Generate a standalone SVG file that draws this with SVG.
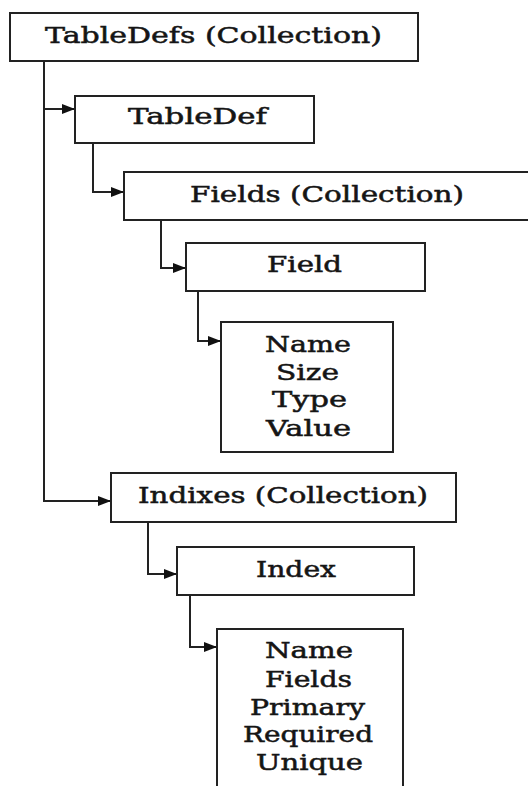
<svg xmlns="http://www.w3.org/2000/svg" width="528" height="786" viewBox="0 0 528 786">
<defs>
<marker id="arr" viewBox="0 0 13 10" refX="13" refY="5" markerWidth="13" markerHeight="10" markerUnits="userSpaceOnUse" orient="auto">
<path d="M0,0 L13,5 L0,10 z" fill="#111"/>
</marker>
</defs>
<style>
.box{fill:#fff;stroke:#222;stroke-width:2}
.lbl{font-family:"DejaVu Serif","Liberation Serif",serif;font-size:22px;fill:#151515;stroke:#151515;stroke-width:0.5;text-anchor:middle}
.con{fill:none;stroke:#222;stroke-width:2}
</style>
<rect width="528" height="786" fill="#fff"/>
<g id="connectors">
<path class="con" d="M44,61 V501 H111" marker-end="url(#arr)"/>
<path class="con" d="M44,109 H75" marker-end="url(#arr)"/>
<path class="con" d="M93,143 V192 H124" marker-end="url(#arr)"/>
<path class="con" d="M161,220 V268 H186" marker-end="url(#arr)"/>
<path class="con" d="M198,291 V341 H221" marker-end="url(#arr)"/>
<path class="con" d="M148,522 V574 H177" marker-end="url(#arr)"/>
<path class="con" d="M190,595 V647 H217" marker-end="url(#arr)"/>
</g>
<g id="tabledefs">
<rect class="box" x="10" y="13" width="408" height="48"/>
<text class="lbl" x="213.5" y="43" textLength="337" lengthAdjust="spacingAndGlyphs">TableDefs (Collection)</text>
</g>
<g id="tabledef">
<rect class="box" x="75" y="96" width="239" height="47"/>
<text class="lbl" x="197.5" y="124" textLength="139" lengthAdjust="spacingAndGlyphs">TableDef</text>
</g>
<g id="fields">
<rect class="box" x="124" y="172" width="410" height="48"/>
<text class="lbl" x="327" y="202" textLength="274" lengthAdjust="spacingAndGlyphs">Fields (Collection)</text>
</g>
<g id="field">
<rect class="box" x="186" y="243" width="239" height="48"/>
<text class="lbl" x="304.5" y="272" textLength="75" lengthAdjust="spacingAndGlyphs">Field</text>
</g>
<g id="field-props">
<rect class="box" x="221" y="322" width="172" height="130"/>
<text class="lbl" x="308" y="352" textLength="86" lengthAdjust="spacingAndGlyphs">Name</text>
<text class="lbl" x="307.5" y="380" textLength="63" lengthAdjust="spacingAndGlyphs">Size</text>
<text class="lbl" x="309.5" y="407" textLength="75" lengthAdjust="spacingAndGlyphs">Type</text>
<text class="lbl" x="308.5" y="436" textLength="85" lengthAdjust="spacingAndGlyphs">Value</text>
</g>
<g id="indixes">
<rect class="box" x="111" y="473" width="345" height="49"/>
<text class="lbl" x="283" y="503" textLength="290" lengthAdjust="spacingAndGlyphs">Indixes (Collection)</text>
</g>
<g id="index">
<rect class="box" x="177" y="547" width="237" height="48"/>
<text class="lbl" x="296" y="577" textLength="80" lengthAdjust="spacingAndGlyphs">Index</text>
</g>
<g id="index-props">
<rect class="box" x="217" y="629" width="186" height="175"/>
<text class="lbl" x="309" y="658" textLength="88" lengthAdjust="spacingAndGlyphs">Name</text>
<text class="lbl" x="308.5" y="687" textLength="87" lengthAdjust="spacingAndGlyphs">Fields</text>
<text class="lbl" x="307.5" y="715" textLength="115" lengthAdjust="spacingAndGlyphs">Primary</text>
<text class="lbl" x="308" y="742" textLength="130" lengthAdjust="spacingAndGlyphs">Required</text>
<text class="lbl" x="309.5" y="770" textLength="107" lengthAdjust="spacingAndGlyphs">Unique</text>
</g>
</svg>
